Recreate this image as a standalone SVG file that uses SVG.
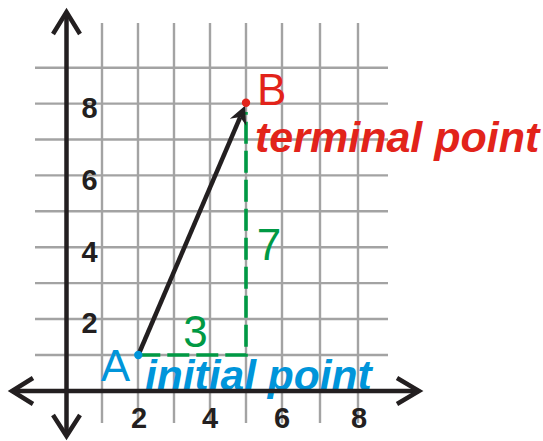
<svg xmlns="http://www.w3.org/2000/svg" width="543" height="441" viewBox="0 0 543 441">
<defs>
<style>
.grid line{stroke:#a3a3a3;stroke-width:2.4}
.axis{stroke:#231f20;stroke-width:4.5;fill:none;stroke-linecap:butt;stroke-linejoin:miter}
.num{font-family:"Liberation Sans",Arial,sans-serif;font-weight:bold;font-size:29px;fill:#231f20;text-anchor:middle}
.big{font-family:"Liberation Sans",Arial,sans-serif;font-size:44px}
.lab{font-family:"Liberation Sans",Arial,sans-serif;font-weight:bold;font-style:italic}
</style>
<marker id="ah" markerUnits="userSpaceOnUse" markerWidth="20" markerHeight="20" viewBox="0 -9 17 18" refX="5" refY="0" orient="auto">
<path d="M0,-8 L16,0 L0,8 L5,0 Z" fill="#231f20"/>
</marker>
</defs>
<rect width="543" height="441" fill="#ffffff"/>
<g id="grid" class="grid">
<line x1="102" y1="23" x2="102" y2="423"/>
<line x1="138" y1="23" x2="138" y2="423"/>
<line x1="174" y1="23" x2="174" y2="423"/>
<line x1="210" y1="23" x2="210" y2="423"/>
<line x1="246" y1="23" x2="246" y2="423"/>
<line x1="282" y1="23" x2="282" y2="423"/>
<line x1="320" y1="23" x2="320" y2="423"/>
<line x1="358" y1="23" x2="358" y2="423"/>
<line x1="35" y1="67.7" x2="388" y2="67.7"/>
<line x1="35" y1="103.6" x2="388" y2="103.6"/>
<line x1="35" y1="139.5" x2="388" y2="139.5"/>
<line x1="35" y1="175.4" x2="388" y2="175.4"/>
<line x1="35" y1="211.3" x2="388" y2="211.3"/>
<line x1="35" y1="247.2" x2="388" y2="247.2"/>
<line x1="35" y1="283.1" x2="388" y2="283.1"/>
<line x1="35" y1="319" x2="388" y2="319"/>
<line x1="35" y1="355" x2="388" y2="355"/>
</g>
<g id="tick-labels">
<text class="num" x="89.5" y="118">8</text>
<text class="num" x="89.5" y="190">6</text>
<text class="num" x="89.5" y="262">4</text>
<text class="num" x="89.5" y="333">2</text>
<text class="num" x="139" y="428">2</text>
<text class="num" x="210" y="428">4</text>
<text class="num" x="282" y="428">6</text>
<text class="num" x="359" y="428">8</text>
</g>
<g id="connectors">
<path id="components" d="M138.3,355 H246 V112" fill="none" stroke="#009944" stroke-width="3.6" stroke-dasharray="22 7"/>
<line id="vector" x1="138.3" y1="355" x2="240.2" y2="117.1" stroke="#231f20" stroke-width="4.5" marker-end="url(#ah)"/>
</g>
<g id="pointA">
<circle cx="138.3" cy="355" r="4.2" fill="#0095da"/>
<text class="big" x="130" y="381" text-anchor="end" fill="#0095da">A</text>
</g>
<g id="pointB">
<circle cx="246" cy="102.7" r="4.2" fill="#e2231a"/>
<text class="big" x="257" y="105" fill="#e2231a">B</text>
</g>
<g id="dx"><text class="big" x="195.5" y="346.5" text-anchor="middle" fill="#009944">3</text></g>
<g id="dy"><text class="big" x="269" y="260" text-anchor="middle" fill="#009944">7</text></g>
<g id="terminal"><text class="lab" x="255" y="151.5" font-size="43" fill="#e2231a">terminal point</text></g>
<g id="initial"><text class="lab" x="145" y="390" font-size="42.5" fill="#0095da">initial point</text></g>
<g id="axes">
<line class="axis" x1="12" y1="391" x2="419" y2="391"/>
<line class="axis" x1="66.5" y1="12" x2="66.5" y2="436"/>
<polyline class="axis" points="397,378 419,391 397,404" stroke-width="5"/>
<polyline class="axis" points="33,378 12,391 33,404" stroke-width="5"/>
<polyline class="axis" points="53,34 66.5,12 80,34" stroke-width="5"/>
<polyline class="axis" points="53,415 66.5,436 80,415" stroke-width="5"/>
</g>
</svg>
